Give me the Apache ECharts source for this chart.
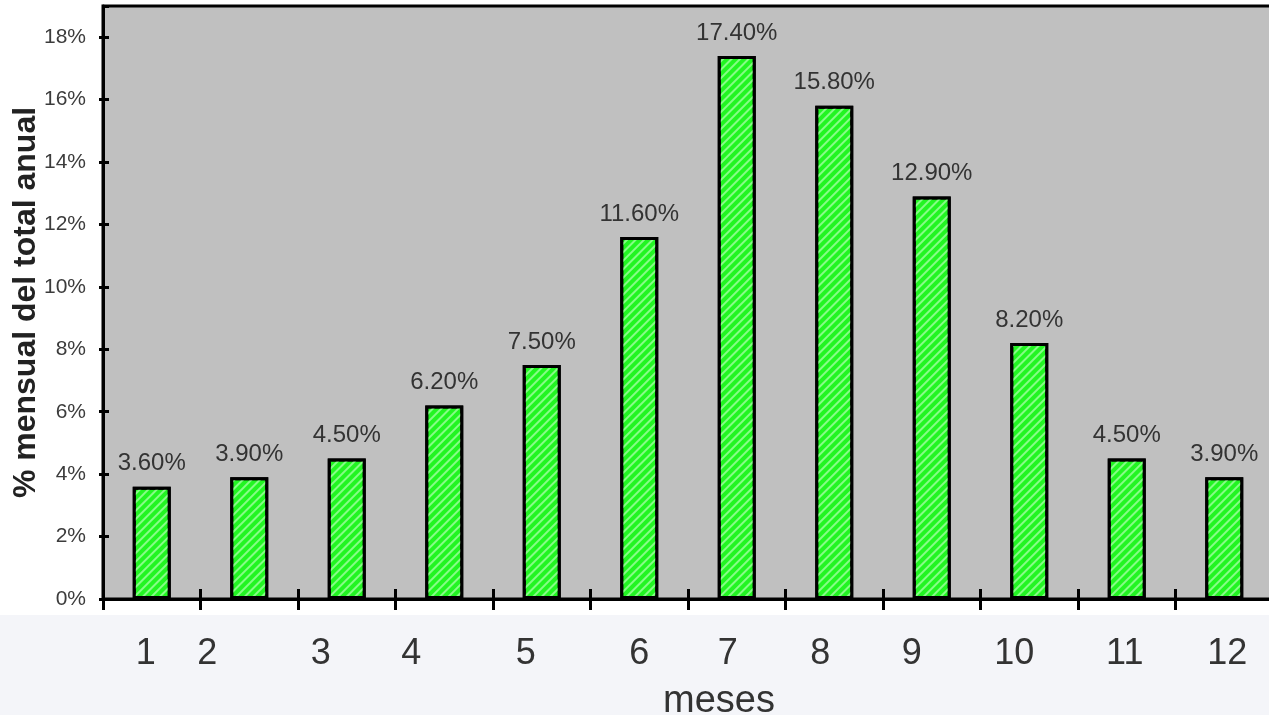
<!DOCTYPE html>
<html>
<head>
<meta charset="utf-8">
<script src="https://cdn.jsdelivr.net/npm/echarts@6/dist/echarts.min.js"></script>
<style>
  html, body { margin: 0; padding: 0; background: #ffffff; }
  #chart { width: 1269px; height: 715px; }
</style>
</head>
<body>
<div id="chart"></div>
<script>
// Monthly share of the annual total (%)
const months = ['1', '2', '3', '4', '5', '6', '7', '8', '9', '10', '11', '12'];
const monthlyShare = [3.6, 3.9, 4.5, 6.2, 7.5, 11.6, 17.4, 15.8, 12.9, 8.2, 4.5, 3.9];
const yTicks = { min: 0, max: 19, interval: 2 };

// Horizontal nudge (px) of each month label relative to its category centre
const labelShift = [-6, -42, -26, -33, -16, 0, -9, -14, -20, -15, -2, 3];

const FONT = '"Liberation Sans", Arial, sans-serif';

const rich = {};
labelShift.forEach((s, i) => {
  rich['m' + i] = {
    fontSize: 36,
    color: '#333',
    fontFamily: FONT,
    padding: s >= 0 ? [0, 0, 0, 2 * s] : [0, -2 * s, 0, 0]
  };
});

const chart = echarts.init(document.getElementById('chart'), null, { renderer: 'canvas' });

chart.setOption({
  animation: false,
  backgroundColor: '#ffffff',
  textStyle: { fontFamily: FONT },
  graphic: [{
    type: 'rect',
    z: -10,
    silent: true,
    shape: { x: 0, y: 615, width: 1269, height: 100 },
    style: { fill: '#f4f5f9' }
  }],
  grid: {
    left: 103, top: 6, width: 1170, height: 593,
    outerBoundsMode: 'none',
    containLabel: false,
    show: true,
    backgroundColor: '#c0c0c0',
    borderColor: '#000',
    borderWidth: 3
  },
  xAxis: [{
    type: 'category',
    data: months,
    boundaryGap: true,
    axisLine: { show: true, lineStyle: { color: '#000', width: 3 } },
    axisTick: { show: true, inside: false, length: 11, lineStyle: { color: '#000', width: 3 } },
    axisLabel: {
      margin: 37,
      formatter: (v, i) => '{m' + i + '|' + v + '}',
      rich: rich
    },
    name: 'meses',
    nameLocation: 'middle',
    nameGap: 84,
    nameMoveOverlap: false,
    nameTextStyle: { fontSize: 38, color: '#333', fontFamily: FONT, padding: [0, 0, 0, 62] }
  }, {
    type: 'category',
    data: months,
    position: 'bottom',
    boundaryGap: true,
    axisLine: { show: false },
    axisTick: { show: true, inside: true, length: 10, lineStyle: { color: '#000', width: 3 } },
    axisLabel: { show: false }
  }],
  yAxis: [{
    type: 'value',
    min: yTicks.min, max: yTicks.max, interval: yTicks.interval,
    splitLine: { show: false },
    axisLine: { show: true, lineStyle: { color: '#000', width: 3 } },
    axisTick: { show: true, inside: false, length: 4, lineStyle: { color: '#000', width: 3 } },
    axisLabel: {
      margin: 17,
      showMaxLabel: false,
      formatter: '{value}%',
      fontSize: 21,
      color: '#3c3c3c',
      fontFamily: FONT
    },
    name: '% mensual del total anual',
    nameLocation: 'middle',
    nameRotate: 90,
    nameGap: 61,
    nameMoveOverlap: false,
    nameTextStyle: { fontSize: 32, fontWeight: 'bold', color: '#222', fontFamily: FONT }
  }, {
    type: 'value',
    position: 'left',
    min: yTicks.min, max: yTicks.max, interval: yTicks.interval,
    splitLine: { show: false },
    axisLine: { show: false },
    axisTick: { show: true, inside: true, length: 6, lineStyle: { color: '#000', width: 3 } },
    axisLabel: { show: false }
  }],
  series: [{
    type: 'bar',
    xAxisIndex: 0,
    yAxisIndex: 0,
    data: monthlyShare,
    barWidth: 38,
    itemStyle: {
      color: '#22f522',
      borderColor: '#000',
      borderWidth: 3,
      decal: {
        symbol: 'rect',
        symbolSize: 1,
        color: 'rgba(160,255,160,0.8)',
        dashArrayX: [1, 0],
        dashArrayY: [2, 4],
        rotation: -Math.PI / 4
      }
    },
    label: {
      show: true,
      position: 'top',
      distance: 11,
      fontSize: 24,
      color: '#333',
      fontFamily: FONT,
      formatter: p => p.value.toFixed(2) + '%'
    }
  }]
});
</script>
</body>
</html>
